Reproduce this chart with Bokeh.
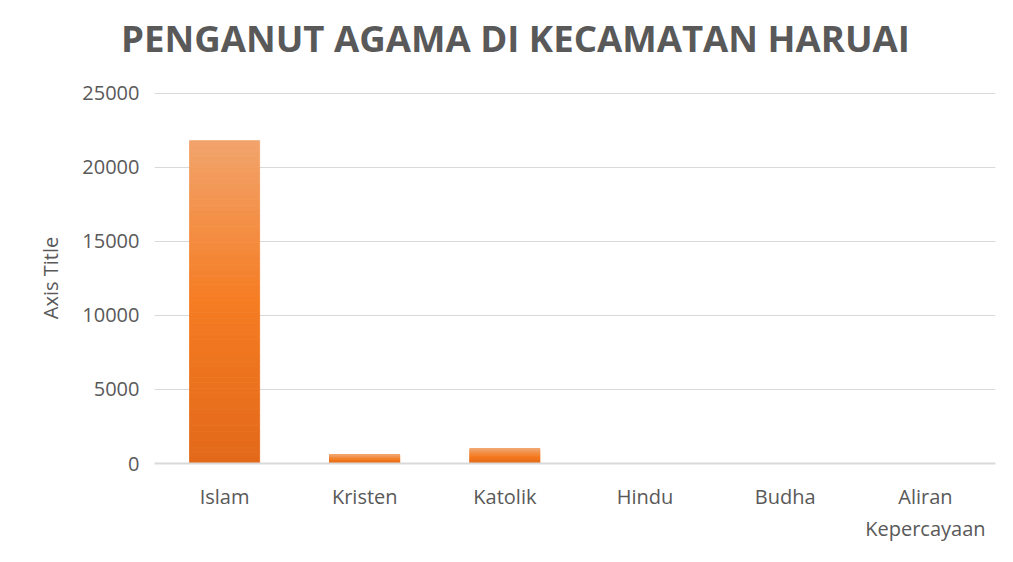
from bokeh.plotting import figure
from bokeh.models import ColumnDataSource, FixedTicker, NumeralTickFormatter, Div
from bokeh.layouts import column
from bokeh.embed import file_html
from bokeh.resources import INLINE

# ---- data ----
categories = ["Islam", "Kristen", "Katolik", "Hindu", "Budha", "Aliran\nKepercayaan"]
penganut = [21800, 600, 1000, 0, 0, 0]
y_ticks = [0, 5000, 10000, 15000, 20000, 25000]
title_text = "PENGANUT AGAMA DI KECAMATAN HARUAI"
y_title = "Axis Title"

# gradient stops (top -> middle -> bottom)
stops = [(0.0, (242, 164, 108)), (0.5, (245, 124, 34)), (1.0, (226, 105, 26))]


def grad_color(t):
    for (t0, c0), (t1, c1) in zip(stops[:-1], stops[1:]):
        if t0 <= t <= t1:
            f = (t - t0) / (t1 - t0)
            c = [round(a + (b - a) * f) for a, b in zip(c0, c1)]
            return "#%02x%02x%02x" % tuple(c)
    return "#%02x%02x%02x" % stops[-1][1]


N = 60
xs, tops, bottoms, colors = [], [], [], []
for cat, v in zip(categories, penganut):
    if v <= 0:
        continue
    for i in range(N):
        xs.append(cat)
        bottoms.append(v * i / N)
        tops.append(v * (i + 1) / N)
        colors.append(grad_color(1 - (i + 0.5) / N))

src = ColumnDataSource(dict(x=xs, top=tops, bottom=bottoms, color=colors))

FONT = "Open Sans"
GRAY = "#595959"

title_div = Div(
    text=(
        '<div style="margin-top:20px;margin-left:121px;line-height:37px;'
        'white-space:nowrap;font-family:\'Open Sans\';font-weight:bold;'
        'font-size:36.6px;color:%s;">%s</div>' % (GRAY, title_text)
    ),
    width=997,
    height=78,
    margin=(0, 0, 0, 0),
)

p = figure(
    x_range=categories,
    y_range=(0, 25050),
    width=997,
    height=468,
    output_backend="svg",
    toolbar_location=None,
    min_border_left=154,
    min_border_right=2,
    min_border_top=14,
    min_border_bottom=83,
    margin=(0, 0, 0, 0),
)

p.vbar(x="x", top="top", bottom="bottom", width=0.5, source=src,
       fill_color="color", line_color="color", line_width=0.8)

p.outline_line_color = None
p.xgrid.grid_line_color = None
p.ygrid.grid_line_color = "#d9d9d9"
p.ygrid.grid_line_width = 1
p.yaxis.ticker = FixedTicker(ticks=y_ticks)
p.yaxis.formatter = NumeralTickFormatter(format="0")

p.yaxis.axis_line_color = None
p.yaxis.major_tick_line_color = None
p.yaxis.minor_tick_line_color = None
p.yaxis.major_label_text_font = FONT
p.yaxis.major_label_text_font_size = "20px"
p.yaxis.major_label_text_color = GRAY
p.yaxis.major_label_standoff = 9
p.yaxis.axis_label = y_title
p.yaxis.axis_label_text_font = FONT
p.yaxis.axis_label_text_font_size = "20px"
p.yaxis.axis_label_text_font_style = "normal"
p.yaxis.axis_label_text_color = GRAY
p.yaxis.axis_label_standoff = 15

p.xaxis.axis_line_color = "#d9d9d9"
p.xaxis.axis_line_width = 2
p.xaxis.major_tick_line_color = None
p.xaxis.minor_tick_line_color = None
p.xaxis.major_label_text_font = FONT
p.xaxis.major_label_text_font_size = "20px"
p.xaxis.major_label_text_color = GRAY
p.xaxis.major_label_standoff = 13

layout = column(title_div, p, spacing=0)

open("out.html", "w").write(file_html(layout, INLINE))
